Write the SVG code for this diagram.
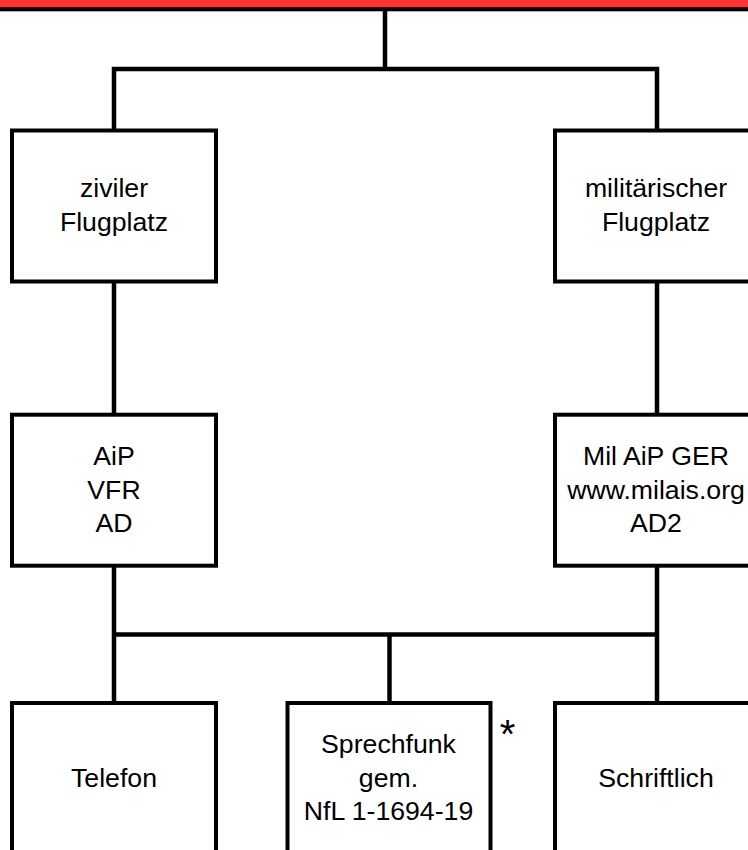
<svg xmlns="http://www.w3.org/2000/svg" width="748" height="850" viewBox="0 0 748 850">
<style>
.box{fill:#ffffff;stroke:#000000;stroke-width:4}
.ln{fill:none;stroke:#000000;stroke-width:4.5;stroke-linejoin:miter}
text{font-family:"Liberation Sans",Arial,sans-serif;font-size:26.67px;fill:#000000;text-anchor:middle}
</style>
<rect width="748" height="850" fill="#ffffff"/>
<g id="header">
<rect x="-10" y="-20" width="768" height="29.3" fill="#ff3333" stroke="#000000" stroke-width="4"/>
</g>
<g id="connectors">
<path class="ln" d="M385 11 V69"/>
<path class="ln" d="M114 130.5 V69 H657 V130.5"/>
<path class="ln" d="M114 281 V414.7"/>
<path class="ln" d="M657 281 V414.7"/>
<path class="ln" d="M114 565 V703"/>
<path class="ln" d="M657 565 V703"/>
<path class="ln" d="M114 634.5 H657"/>
<path class="ln" d="M389.5 634.5 V703"/>
</g>
<g id="ziviler">
<rect class="box" x="12" y="130.5" width="204" height="151"/>
<text x="114" y="197.3">ziviler</text>
<text x="114" y="230.7">Flugplatz</text>
</g>
<g id="militaer">
<rect class="box" x="555" y="130.5" width="204" height="151"/>
<text x="656" y="197.3">militärischer</text>
<text x="656" y="230.7">Flugplatz</text>
</g>
<g id="aip">
<rect class="box" x="12" y="414.7" width="204" height="151"/>
<text x="114" y="465">AiP</text>
<text x="114" y="498.5">VFR</text>
<text x="114" y="532">AD</text>
</g>
<g id="milaip">
<rect class="box" x="555" y="414.7" width="204" height="151"/>
<text x="656" y="465">Mil AiP GER</text>
<text x="656" y="498.5">www.milais.org</text>
<text x="656" y="532">AD2</text>
</g>
<g id="telefon">
<rect class="box" x="12" y="703" width="204" height="151"/>
<text x="114" y="786.7">Telefon</text>
</g>
<g id="sprechfunk">
<rect class="box" x="287.5" y="703" width="203" height="151"/>
<text x="388.5" y="753.3">Sprechfunk</text>
<text x="388.5" y="786.7">gem.</text>
<text x="388.5" y="820.2">NfL 1-1694-19</text>
<text x="507.5" y="748" style="font-size:40px">*</text>
</g>
<g id="schriftlich">
<rect class="box" x="555" y="703" width="204" height="151"/>
<text x="656" y="786.7">Schriftlich</text>
</g>
</svg>
